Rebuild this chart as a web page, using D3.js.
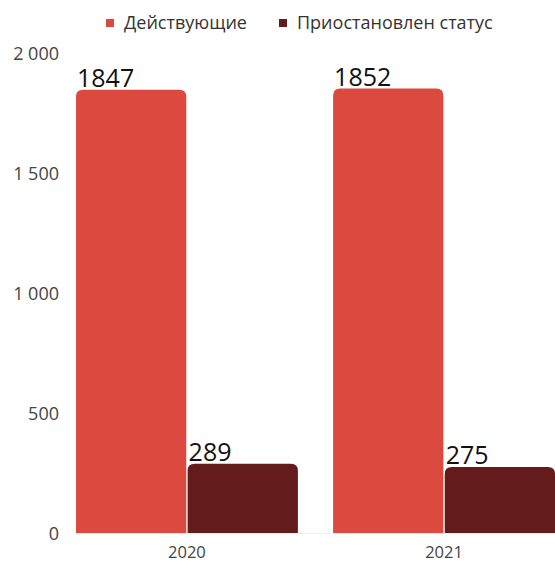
<!DOCTYPE html>
<html>
<head>
<meta charset="utf-8">
<script src="https://cdn.jsdelivr.net/npm/d3@7"></script>
<style>
  body { margin: 0; background: #fff; }
  text { font-family: "Open Sans", sans-serif; }
</style>
</head>
<body>
<div id="root"></div>
<script>
"use strict";

// data
const years = ["2020", "2021"];
const seriesNames = ["Действующие", "Приостановлен статус"];
const active = [1847, 1852];
const suspended = [289, 275];
const yTicks = [0, 500, 1000, 1500, 2000];
const colors = ["#dc4a3f", "#641b1b"];

const width = 555;
const height = 562;
const margin = { top: 53, right: 0, bottom: 29, left: 76 };

let svg = d3.select('#root')
    .append('svg')
    .attr('width', width)
    .attr('height', height);

let yScale = d3.scaleLinear()
    .domain([0, 2000])
    .range([height - margin.bottom, margin.top]);

let xScale = d3.scaleBand()
    .domain(years)
    .range([margin.left, width - margin.right])
    .paddingInner(0.137)
    .paddingOuter(0);

let subScale = d3.scaleBand()
    .domain(seriesNames)
    .range([0, xScale.bandwidth()])
    .paddingInner(0.012);

// y axis (labels only)
let yAxis = d3.axisLeft(yScale)
    .tickValues(yTicks)
    .tickSize(0)
    .tickPadding(0)
    .tickFormat(d => d3.format(",")(d).replace(/,/g, " "));

svg.append('g')
    .attr('transform', 'translate(59,0)')
    .call(yAxis)
    .call(g => g.select('.domain').remove())
    .selectAll('text')
    .attr('font-size', 18)
    .attr('fill', '#444')
    .attr('font-family', '"Open Sans", sans-serif')
    .attr('dy', '0.35em');

// baseline
svg.append('line')
    .attr('x1', margin.left)
    .attr('x2', width)
    .attr('y1', yScale(0) + 0.5)
    .attr('y2', yScale(0) + 0.5)
    .attr('stroke', '#eeeeee');

// bars with rounded top corners
const r = 7;
function barPath(x, y, w, h) {
    return `M${x},${y + h}V${y + r}Q${x},${y} ${x + r},${y}H${x + w - r}Q${x + w},${y} ${x + w},${y + r}V${y + h}Z`;
}

let rows = [];
years.forEach((yr, i) => {
    rows.push({ year: yr, series: seriesNames[0], value: active[i], color: colors[0] });
    rows.push({ year: yr, series: seriesNames[1], value: suspended[i], color: colors[1] });
});

let barsG = svg.append('g');
barsG.selectAll('path')
    .data(rows)
    .enter().append('path')
    .attr('d', d => {
        let x = xScale(d.year) + subScale(d.series);
        let y = yScale(d.value);
        return barPath(x, y, subScale.bandwidth(), yScale(0) - y);
    })
    .attr('fill', d => d.color);

barsG.selectAll('text')
    .data(rows)
    .enter().append('text')
    .attr('x', d => xScale(d.year) + subScale(d.series) + 1)
    .attr('y', d => yScale(d.value) - 3)
    .attr('font-size', 25)
    .attr('fill', '#111')
    .text(d => d.value);

// x labels
svg.append('g')
    .selectAll('text')
    .data(years)
    .enter().append('text')
    .attr('x', d => xScale(d) + xScale.bandwidth() / 2)
    .attr('y', 558)
    .attr('text-anchor', 'middle')
    .attr('font-size', 16.5)
    .attr('fill', '#444')
    .text(d => d);

// legend
const legendX = [106, 279];
let legend = svg.append('g')
    .selectAll('g')
    .data(seriesNames)
    .enter().append('g')
    .attr('transform', (d, i) => `translate(${legendX[i]},0)`);

legend.append('rect')
    .attr('x', 0)
    .attr('y', 19)
    .attr('width', 8)
    .attr('height', 8)
    .attr('fill', (d, i) => colors[i]);

legend.append('text')
    .attr('x', 18)
    .attr('y', 29)
    .attr('font-size', 18)
    .attr('fill', '#333')
    .text(d => d);
</script>
</body>
</html>
